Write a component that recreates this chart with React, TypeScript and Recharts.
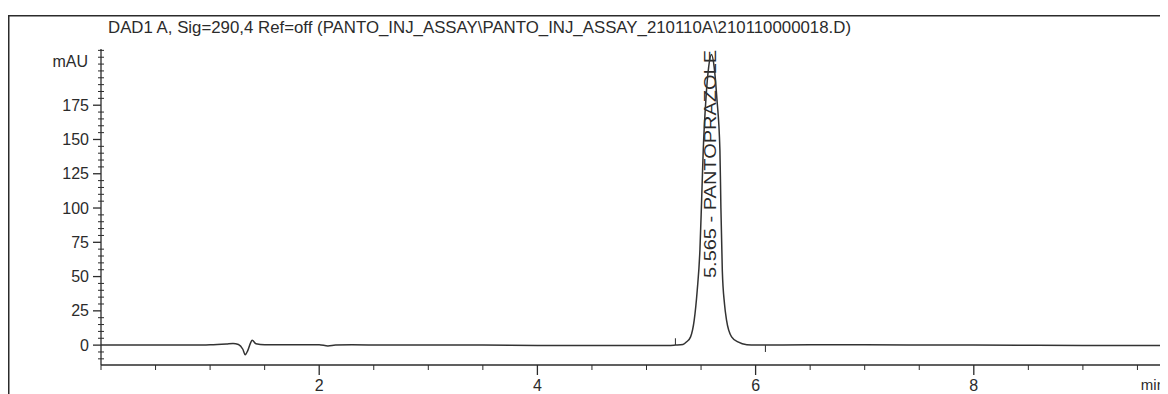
import React from "react";
import { LineChart, Line, XAxis, YAxis, ReferenceLine, Label } from "recharts";

// retention time (min) and detector signal (mAU)
const times = [
  0, 0.5, 1.0, 1.15, 1.21, 1.26, 1.3, 1.322, 1.345, 1.37, 1.386, 1.42, 1.5,
  2.0, 2.08, 2.15, 2.3, 3.0, 3.5, 4.0, 4.5, 5.0, 5.2, 5.265, 5.334, 5.368,
  5.404, 5.437, 5.465, 5.49, 5.505, 5.52, 5.545, 5.57, 5.595, 5.62, 5.645,
  5.673, 5.682, 5.695, 5.715, 5.734, 5.78, 5.838, 5.92, 6.0, 6.5, 7.0, 8.0,
  9.0, 10.0,
];
const signal = [
  0, 0, 0.2, 0.8, 1.2, 0.5, -3, -7, -4, 1.5, 3.5, 1, 0.3,
  0.3, -0.6, 0, 0.2, 0, 0.1, -0.2, -0.2, -0.3, -0.3, 0, 0.5, 2.4,
  6, 18, 40, 70, 105, 142, 180, 203, 212, 203, 180,
  142, 100, 54, 30, 18, 6, 2.4, 0.3, 0, 0.2, 0.2, 0,
  -0.2, -0.2,
];

const yLabelTicks = [0, 25, 50, 75, 100, 125, 150, 175];
const xLabelTicks = [2, 4, 6, 8];

const peakTime = 5.565;
const peakName = "PANTOPRAZOLE";
const title =
  "DAD1 A, Sig=290,4 Ref=off (PANTO_INJ_ASSAY\\PANTO_INJ_ASSAY_210110A\\210110000018.D)";

const rows = times.map((t, i) => ({ t, v: signal[i] }));

const yTicks: number[] = [];
for (let v = -10; v <= 215; v += 5) yTicks.push(v);
const xTicks: number[] = [];
for (let v = 0; v <= 10; v += 0.5) xTicks.push(v);

const FONT = "'Liberation Sans', Arial, sans-serif";
const INK = "#2b2b2b";

function YTick(props: any) {
  const { x, y, payload } = props;
  const major = yLabelTicks.includes(payload.value);
  if (!major) {
    return <line x1={x - 3} x2={x + 3} y1={y} y2={y} stroke={INK} strokeWidth={1} />;
  }
  return (
    <g>
      <line x1={x - 8} x2={x} y1={y} y2={y} stroke={INK} strokeWidth={1.3} />
      <text x={x - 12} y={y} textAnchor="end" dominantBaseline="central"
        fontSize={16} fontFamily={FONT} fill={INK}>
        {payload.value}
      </text>
    </g>
  );
}

function XTick(props: any) {
  const { x, y, payload } = props;
  const major = xLabelTicks.includes(payload.value);
  if (!major) {
    return <line x1={x} x2={x} y1={y} y2={y + 5} stroke={INK} strokeWidth={1} />;
  }
  return (
    <g>
      <line x1={x} x2={x} y1={y} y2={y + 10} stroke={INK} strokeWidth={1.3} />
      <text x={x} y={y + 25.5} textAnchor="middle" fontSize={16} fontFamily={FONT} fill={INK}>
        {payload.value}
      </text>
    </g>
  );
}

function PeakLabel(props: any) {
  const { viewBox } = props;
  const cx = viewBox.x + 1.4;
  const cy = viewBox.y + 115;
  return (
    <text x={cx} y={cy} transform={`rotate(-90, ${cx}, ${cy})`} textAnchor="middle"
      dominantBaseline="central" fontSize={16.5} fontFamily={FONT} fill={INK}
      textLength={228} lengthAdjust="spacingAndGlyphs">
      {`${peakTime.toFixed(3)} - ${peakName}`}
    </text>
  );
}

export default function App() {
  return (
    <div style={{ position: "relative", width: 1160, height: 386, overflow: "hidden", background: "#fff" }}>
      <LineChart width={1200} height={386} data={rows}
        margin={{ top: 41, right: 16, left: 1, bottom: 0 }}>
        <XAxis dataKey="t" type="number" domain={[0, 10]} allowDataOverflow
          ticks={xTicks} interval={0} tickSize={0} tickMargin={0} tickLine={false}
          tick={<XTick />} height={29} axisLine={{ stroke: INK, strokeWidth: 1.3 }} />
        <YAxis type="number" domain={[-14.5, 216]} allowDataOverflow
          ticks={yTicks} interval={0} tickSize={0} tickMargin={0} tickLine={false}
          tick={<YTick />} width={92} axisLine={{ stroke: INK, strokeWidth: 1.3 }} />
        <ReferenceLine x={peakTime} strokeOpacity={0}>
          <Label content={<PeakLabel />} />
        </ReferenceLine>
        <ReferenceLine segment={[{ x: 5.265, y: 0 }, { x: 5.265, y: 5 }]} stroke={INK} strokeWidth={1} />
        <ReferenceLine segment={[{ x: 6.09, y: 0 }, { x: 6.09, y: -5 }]} stroke={INK} strokeWidth={1} />
        <Line type="monotone" dataKey="v" stroke="#333" strokeWidth={1.5} dot={false}
          isAnimationActive={false} />
      </LineChart>
      <svg width={1160} height={386} style={{ position: "absolute", left: 0, top: 0, pointerEvents: "none" }}>
        <line x1={0.75} y1={7} x2={0.75} y2={386} stroke={INK} strokeWidth={1.5} />
        <line x1={0} y1={7.75} x2={1160} y2={7.75} stroke={INK} strokeWidth={1.5} />
        <text x={100} y={25} fontSize={16.5} fontFamily={FONT} fill={INK}
          textLength={743} lengthAdjust="spacingAndGlyphs">
          {title}
        </text>
        <text x={80} y={59} textAnchor="end" fontSize={16} fontFamily={FONT} fill={INK}>mAU</text>
        <text x={1157} y={382} textAnchor="end" fontSize={15} fontFamily={FONT} fill={INK}>min</text>
      </svg>
    </div>
  );
}
